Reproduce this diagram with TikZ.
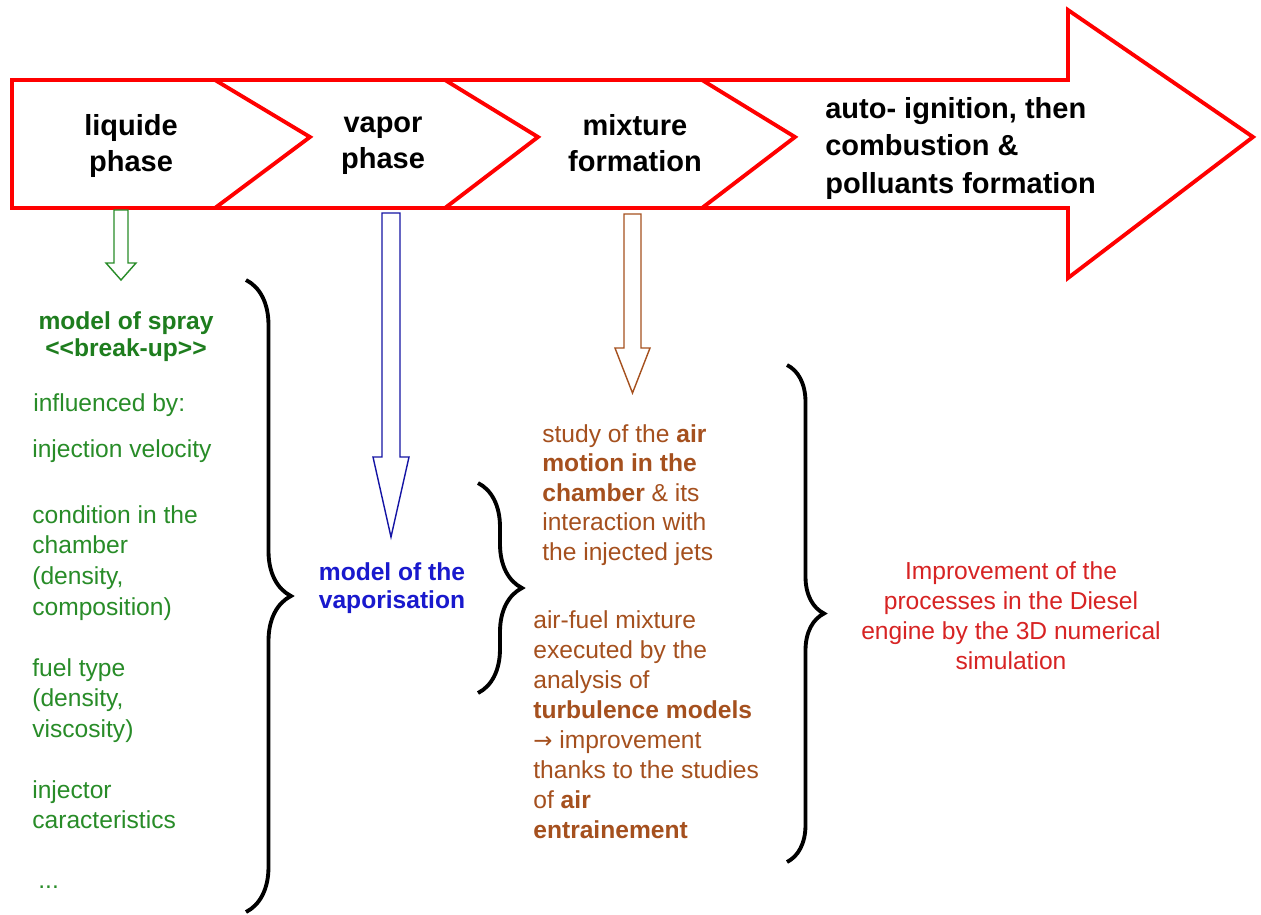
\documentclass[tikz,border=0pt]{standalone}
\usepackage{fontspec}
\setmainfont{Liberation Sans}
\newfontfamily\arrowfont{DejaVu Sans}
\usepackage{tikz}
\usetikzlibrary{decorations.pathreplacing, positioning, arrows.meta}
\usepackage{xcolor}

\definecolor{bandred}{RGB}{255,0,0}
\definecolor{spraygreen}{RGB}{40,140,40}
\definecolor{spraygreendark}{RGB}{30,125,30}
\definecolor{vapblue}{RGB}{25,25,205}
\definecolor{mixbrown}{RGB}{165,80,30}
\definecolor{simred}{RGB}{215,35,35}

\begin{document}
\begin{tikzpicture}[
        x=0.02cm, y=-0.02cm,
        % Stili per i testi
        phase/.style={font=\fontsize{16.5}{20.5}\selectfont\bfseries, align=center, anchor=north, inner sep=0pt},
        spray/.style={text=spraygreen, font=\fontsize{14}{17.6}\selectfont, align=left, anchor=north west, inner sep=0pt},
        spraybold/.style={text=spraygreendark, font=\fontsize{14}{15.5}\selectfont\bfseries, align=center, anchor=north, inner sep=0pt},
        vapbold/.style={text=vapblue, font=\fontsize{14}{16}\selectfont\bfseries, align=center, anchor=north, inner sep=0pt},
        mixtxt/.style={text=mixbrown, font=\fontsize{14}{16.8}\selectfont, align=left, anchor=north west, inner sep=0pt},
        simtxt/.style={text=simred, font=\fontsize{14}{17.1}\selectfont, align=center, anchor=north, inner sep=0pt},
        % Stili per le linee
        band/.style={draw=bandred, line width=2.2pt, line join=miter},
        hollow/.style={line width=0.8pt, fill=white, line join=miter},
        curly/.style={decorate, decoration={brace, amplitude=#1}, line width=2.2pt, draw=black}
    ]

    \useasboundingbox[fill=white] (0,0) rectangle (1261,914);

    % --- PHASE BAND ---
    \draw[band] (12,80) -- (1068,80) -- (1068,10) -- (1253,137) -- (1068,278) -- (1068,208) -- (12,208) -- cycle;
    \foreach \x/\t in {215/310, 445/538, 702/795} {
        \draw[band] (\x,80) -- (\t,137) -- (\x,208);
    }

    \node[phase] (liq) at (131,110) {\strut liquide\\phase};
    \node[phase] (vap) at (383,107) {\strut vapor\\phase};
    \node[phase] (mix) at (635,110) {\strut mixture\\formation};
    \node[phase, anchor=north west, align=left, font=\fontsize{16.5}{21.3}\selectfont\bfseries] (comb) at (825,92)
        {\strut auto- ignition, then\\combustion \&\\polluants formation};

    % --- HOLLOW ARROWS ---
    \coordinate (liqtop) at (121,210);
    \coordinate (liqtip) at (121,280);
    \coordinate (vaptop) at (391,213);
    \coordinate (vaptip) at (391,537);
    \coordinate (mixtop) at (632.5,214);
    \coordinate (mixtip) at (632.5,393);

    \draw[hollow, draw=spraygreen] (liqtop) ++(-7,0) -- ++(0,53) -- ++(-8,0) -- (liqtip) -- ++(15,-17) -- ++(-8,0) -- ++(0,-53) -- cycle;
    \draw[hollow, draw=vapblue!80!black] (vaptop) ++(-9,0) -- ++(0,244) -- ++(-9,0) -- (vaptip) -- ++(18,-80) -- ++(-9,0) -- ++(0,-244) -- cycle;
    \draw[hollow, draw=mixbrown] (mixtop) ++(-8.5,0) -- ++(0,134) -- ++(-9,0) -- (mixtip) -- ++(17.5,-45) -- ++(-9,0) -- ++(0,-134) -- cycle;

    % --- LIQUID PHASE ---
    \node[spraybold] (spray) at (126,310) {\strut model of spray\\<\kern0pt<break-up>\kern0pt>};
    \node[spray] (infl) at (33,389) {\strut influenced by:};
    \node[spray] (injvel) at (32,435) {\strut injection velocity};
    \node[spray] (cond) at (32,501) {\strut condition in the\\chamber\\(density,\\composition)};
    \node[spray] (fuel) at (32,654) {\strut fuel type\\(density,\\viscosity)};
    \node[spray] (injector) at (32,776) {\strut injector\\caracteristics};
    \node[spray] (more) at (38,866) {\strut ...};

    % --- VAPOR PHASE ---
    \node[vapbold] (vapmodel) at (392,560) {\strut model of the\\vaporisation};

    % --- MIXTURE FORMATION ---
    \node[mixtxt] (airmotion) at (542,421)
        {\strut study of the \textbf{air}\\\textbf{motion in the}\\\textbf{chamber} \& its\\interaction with\\the injected jets};
    \node[mixtxt, font=\fontsize{14}{17.1}\selectfont] (airfuel) at (533,607)
        {\strut air-fuel mixture\\executed by the\\analysis of\\\textbf{turbulence models}\\{\arrowfont\fontsize{13}{17.1}\selectfont →} improvement\\thanks to the studies\\of \textbf{air}\\\textbf{entrainement}};

    % --- RESULT ---
    \node[simtxt] (improve) at (1011,558)
        {\strut Improvement of the\\processes in the Diesel\\engine by the 3D numerical\\simulation};

    % --- BRACES ---
    \draw[curly=0.9cm] (246,280) -- (246,912);
    \draw[curly=0.88cm] (478,483) -- (478,693);
    \draw[curly=0.74cm] (787,365) -- (787,862);

\end{tikzpicture}
\end{document}
